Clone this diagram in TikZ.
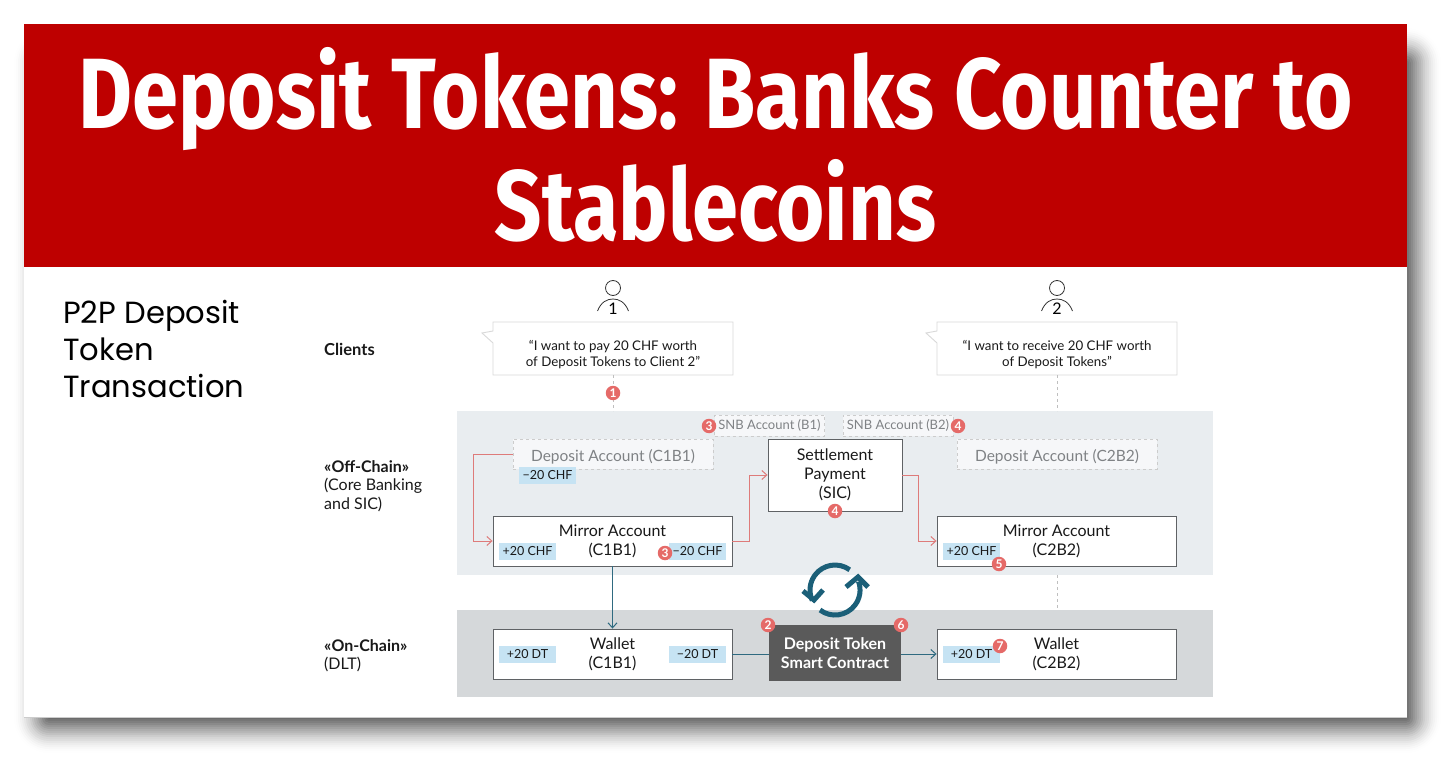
\documentclass[tikz,border=0pt]{standalone}
\usepackage{fontspec}
\setmainfont{Lato}
\newfontfamily\titlefont[FakeStretch=0.83]{Fira Sans}
\newfontfamily\sidefont{Poppins}
\usepackage{tikz}
\usetikzlibrary{arrows.meta,calc}
\definecolor{bandred}{HTML}{BE0000}
\definecolor{offband}{HTML}{E9EDF0}
\definecolor{onband}{HTML}{D5D8DA}
\definecolor{tagblue}{HTML}{C6E3F3}
\definecolor{badgered}{HTML}{E56A68}
\definecolor{linkred}{HTML}{DE7B7A}
\definecolor{linkteal}{HTML}{2F6A80}
\definecolor{iconteal}{HTML}{1B5F78}
\definecolor{boxgrey}{HTML}{5F6265}
\definecolor{softgrey}{HTML}{7F8285}
\definecolor{darkbox}{HTML}{5A5A5A}

\begin{document}
\begin{tikzpicture}[
  x=1pt, y=-1pt,
  font=\fontsize{16}{19}\selectfont,
  acct/.style={draw=boxgrey, line width=0.9pt, fill=white, align=center, minimum width=239pt,
    minimum height=50pt, inner sep=0pt, text=black!90},
  ghost/.style={draw=black!20, dashed, line width=0.7pt, fill=white, fill opacity=0.6, text opacity=1,
    align=center, inner sep=0pt, text=softgrey, minimum height=30pt, minimum width=200pt,
    font=\fontsize{15.5}{19}\selectfont},
  depacct/.style={ghost, text height=16pt, text depth=2pt},
  snb/.style={ghost, minimum height=21pt, minimum width=110pt, font=\fontsize{13}{16}\selectfont},
  tag/.style={fill=tagblue, minimum width=57pt, minimum height=17pt, inner sep=0pt,
    font=\fontsize{12.5}{15}\selectfont, text=black!90},
  badge/.style={circle, fill=badgered, text=white, inner sep=0pt, minimum size=14.5pt,
    font=\fontsize{12}{12}\bfseries\selectfont},
  bubble/.style={draw=black!15, line width=0.9pt, fill=white},
  say/.style={align=center, inner sep=0pt, text=black!90, font=\fontsize{13.3}{16}\selectfont},
  rowlabel/.style={align=left, anchor=north west, inner sep=0pt, text=black!90,
    font=\fontsize{16}{18.7}\selectfont},
  redlink/.style={draw=linkred, line width=1pt, -{Straight Barb[length=5pt,width=9pt]}},
  teallink/.style={draw=linkteal, line width=1pt, -{Straight Barb[length=5pt,width=9pt]}},
  dots/.style={draw=black!25, dashed, line width=0.9pt},
  syncline/.style={draw=iconteal, line width=5pt}
]
% slide shadow
\useasboundingbox (0,0) rectangle (1456,767);
\foreach \g [evaluate=\g as \op using {0.004+0.0025*(34-\g)}] in {0,2,...,34}
  \fill[black, opacity=\op, rounded corners=\g pt+1pt]
    (48-\g,62-\g) rectangle (1407+\g,719+\g);

% slide and title band
\fill[white] (24,24) rectangle (1407,717);
\draw[black!20, line width=1.6pt] (23.5,717.5) -- (1407,717.5);
\draw[black!8, line width=1pt] (23.5,267) -- (23.5,717);
\fill[bandred] (24,24) rectangle (1407,267);
\node[text=white, align=center, inner sep=0pt, font=\fontsize{100}{112}\titlefont\bfseries\selectfont]
  (title) at (715.5,145) {Deposit Tokens: Banks Counter to\\Stablecoins};
\node[anchor=north west, align=left, inner sep=0pt, font=\fontsize{30.6}{37}\sidefont\selectfont]
  (side) at (63,300) {P2P Deposit\\Token\\Transaction};

% bands
\fill[offband] (457,411) rectangle (1213,575);
\fill[onband] (457,610) rectangle (1213,697);

% clients
\foreach \n/\x in {1/613,2/1057} {
  \node[circle, draw=black!80, line width=0.8pt, minimum size=15pt, inner sep=0pt] (head\n) at (\x,288) {};
  \draw[black!80, line width=0.8pt] (\x-15.5,311) .. controls (\x-12,302) and (\x-6,299) .. (\x,299)
    .. controls (\x+6,299) and (\x+12,302) .. (\x+15.5,311);
  \node[inner sep=0pt, font=\fontsize{16}{16}\selectfont] (num\n) at (\x,309) {\n};
}
\draw[bubble] (493,322) -- (733,322) -- (733,375) -- (493,375) -- (493,343) -- (482,333) -- (493,331) -- cycle;
\draw[bubble] (937,322) -- (1177,322) -- (1177,375) -- (937,375) -- (937,343) -- (926,333) -- (937,331) -- cycle;
\node[say] (say1) at (613,354.5) {``I want to pay 20 CHF worth\\of Deposit Tokens to Client 2''};
\node[say] (say2) at (1057,354.5) {``I want to receive 20 CHF worth\\of Deposit Tokens''};
\coordinate (off1) at (613,411);
\coordinate (off2) at (1057,411);
\coordinate (offb) at (1057,575);
\coordinate (onb) at (1057,610);
\draw[dots] (613,375) -- (off1);
\draw[dots] (1057,375) -- (off2);
\draw[dots] (offb) -- (onb);

% row labels
\node[rowlabel, font=\fontsize{16.5}{18.7}\bfseries\selectfont] (clients) at (324,343) {Clients};
\node[rowlabel] (offchain) at (324,460) {\textbf{«Off-Chain»}\\(Core Banking\\and SIC)};
\node[rowlabel] (onchain) at (324,639) {\textbf{«On-Chain»}\\(DLT)};

% off-chain
\node[snb] (snb1) at (769.5,425.5) {SNB Account (B1)};
\node[snb] (snb2) at (898,425.5) {SNB Account (B2)};
\node[depacct] (dep1) at (613,454) {Deposit Account (C1B1)};
\node[depacct] (dep2) at (1057,454) {Deposit Account (C2B2)};
\node[acct, minimum width=134pt, minimum height=72pt] (settle) at (835,475) {Settlement\\Payment\\(SIC)};
\node[acct] (mirror1) at (612.5,541) {Mirror Account\\(C1B1)};
\node[acct] (mirror2) at (1056.5,541) {Mirror Account\\(C2B2)};

% on-chain
\node[acct] (wallet1) at (612.5,654) {Wallet\\(C1B1)};
\node[acct] (wallet2) at (1056.5,654) {Wallet\\(C2B2)};
\node[fill=darkbox, text=white, align=center, minimum width=132pt, minimum height=56pt, inner sep=0pt,
  font=\fontsize{16}{18.5}\bfseries\selectfont] (contract) at (835,653) {Deposit Token\\Smart Contract};

% tags
\node[tag] (t1) at (547.5,475) {−20 CHF};
\node[tag] (t2) at (527.5,551.5) {+20 CHF};
\node[tag] (t3) at (697.5,551.5) {−20 CHF};
\node[tag] (t4) at (971.5,551.5) {+20 CHF};
\node[tag] (t5) at (527.5,654.5) {+20 DT};
\node[tag] (t6) at (697.5,654.5) {−20 DT};
\node[tag] (t7) at (971.5,654.5) {+20 DT};

% links
\draw[redlink] (dep1.west) -- ++(-39,0) |- (mirror1.west);
\draw[redlink] (mirror1.east) -- ++(17,0) |- (settle.west);
\draw[redlink] (settle.east) -- ++(16,0) |- (mirror2.west);
\draw[teallink] (mirror1) -- (wallet1);
\draw[draw=linkteal, line width=1pt] (wallet1.east) -- (contract.west |- wallet1.east);
\draw[teallink] (contract.east |- wallet2.west) -- (wallet2.west);

% sync icon
\draw[syncline] (849.7,569.8) arc[start angle=54, end angle=205, radius=25pt];
\draw[syncline] (803,591) -- (814,600) -- (823,590);
\draw[syncline] (820,610) arc[start angle=233, end angle=380, radius=25pt];
\draw[syncline] (846,587) -- (858,577) -- (868,587);

% badges
\node[badge] (b1) at (613,393) {1};
\node[badge] (b2) at (768,625) {2};
\node[badge] (b3a) at (709,426) {3};
\node[badge] (b3b) at (665,553) {3};
\node[badge] (b4a) at (958,426) {4};
\node[badge] (b4b) at (835,511) {4};
\node[badge] (b5) at (999,564) {5};
\node[badge] (b6) at (901,625) {6};
\node[badge] (b7) at (1000,646) {7};
\end{tikzpicture}
\end{document}
